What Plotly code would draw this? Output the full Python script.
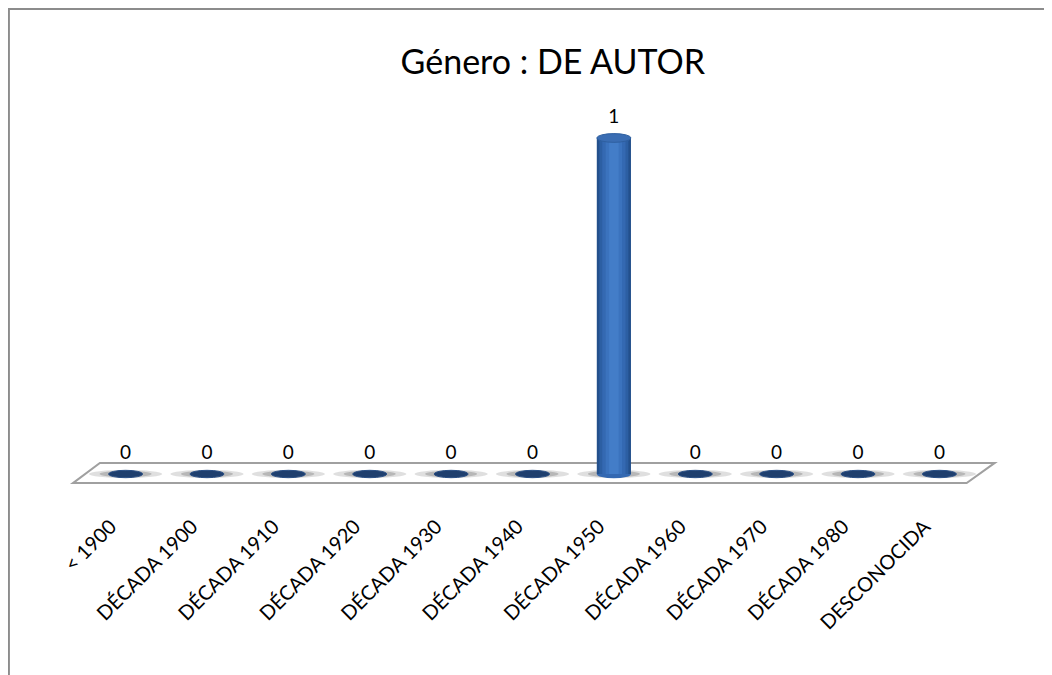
import plotly.graph_objects as go

# datos del grafico
categorias = ["< 1900", "DÉCADA 1900", "DÉCADA 1910", "DÉCADA 1920", "DÉCADA 1930",
              "DÉCADA 1940", "DÉCADA 1950", "DÉCADA 1960", "DÉCADA 1970",
              "DÉCADA 1980", "DESCONOCIDA"]
valores = [0, 0, 0, 0, 0, 0, 1, 0, 0, 0, 0]
titulo = "Género : DE AUTOR"

xs = list(range(len(categorias)))
W = 0.42      # ancho del cilindro (en categorias)
E = 0.013     # semialto de la elipse (en unidades y)
FONT = "Lato, 'Open Sans', sans-serif"

fig = go.Figure()

# cilindro: varias barras superpuestas para simular el degradado
capas = [(1.00, "#23508C"), (0.85, "#2C5FA3"), (0.68, "#3469B2"),
         (0.48, "#3B73BE"), (0.28, "#437DC8")]
for frac, col in capas:
    fig.add_trace(go.Bar(x=xs, y=valores, width=W * frac, marker_color=col,
                         marker_line_width=0, hoverinfo="skip", showlegend=False))

# etiquetas de datos
fig.add_trace(go.Scatter(x=xs, y=[v + 0.03 for v in valores], mode="text",
                         text=[str(v) for v in valores], textposition="top center",
                         textfont=dict(family=FONT, size=19, color="#000000"),
                         hoverinfo="skip", showlegend=False))

shapes = []
n = len(categorias)
# suelo del grafico
shapes.append(dict(type="path", xref="x", yref="y",
                   path=f"M -0.647,-0.027 L -0.316,0.033 L {n - 1 + 0.68},0.033 L {n - 1 + 0.335},-0.027 Z",
                   fillcolor="#FFFFFF", line=dict(color="#A0A0A0", width=2), layer="below"))
for i, v in zip(xs, valores):
    # sombra sobre el suelo
    shapes.append(dict(type="circle", xref="x", yref="y", x0=i - 0.45, x1=i + 0.45,
                       y0=-0.012, y1=0.012, fillcolor="rgba(150,150,150,0.3)",
                       line_width=0, layer="below"))
    shapes.append(dict(type="circle", xref="x", yref="y", x0=i - 0.32, x1=i + 0.32,
                       y0=-0.009, y1=0.009, fillcolor="rgba(110,110,110,0.35)",
                       line_width=0, layer="below"))
    if v == 0:
        shapes.append(dict(type="circle", xref="x", yref="y", x0=i - W / 2, x1=i + W / 2,
                           y0=-0.011, y1=0.011, fillcolor="#1F3F6E",
                           line=dict(color="#2A4F85", width=1)))
    else:
        # base curva y tapa superior
        shapes.append(dict(type="circle", xref="x", yref="y", x0=i - W / 2, x1=i + W / 2,
                           y0=-E, y1=E, fillcolor="#3469B2", line_width=0, layer="below"))
        shapes.append(dict(type="circle", xref="x", yref="y", x0=i - W / 2, x1=i + W / 2,
                           y0=v - E, y1=v + E, fillcolor="#3A6DB3",
                           line=dict(color="#2E5FA0", width=1)))

# borde del area del grafico
shapes.append(dict(type="rect", xref="paper", yref="paper", x0=-0.0624, x1=1.2,
                   y0=-1, y1=1.2333, line=dict(color="#8C8C8C", width=2),
                   fillcolor="rgba(0,0,0,0)"))

fig.update_layout(
    width=1052, height=675,
    paper_bgcolor="white", plot_bgcolor="white",
    margin=dict(l=59, r=62, t=92, b=193),
    barmode="overlay",
    title=dict(text=titulo, x=0.5218, xref="paper", xanchor="center",
               y=0.92, yanchor="middle",
               font=dict(family=FONT, size=34, color="#000000")),
    xaxis=dict(range=[-0.72, n - 0.28], tickvals=xs, ticktext=categorias, tickangle=-45,
               showgrid=False, zeroline=False, showline=False, ticks="",
               ticklabelstandoff=20, ticklabelshift=-15,
               tickfont=dict(family=FONT, size=20, color="#000000")),
    yaxis=dict(range=[-0.0476, 1.113], visible=False),
    shapes=shapes,
)

fig.write_html("out.html")
